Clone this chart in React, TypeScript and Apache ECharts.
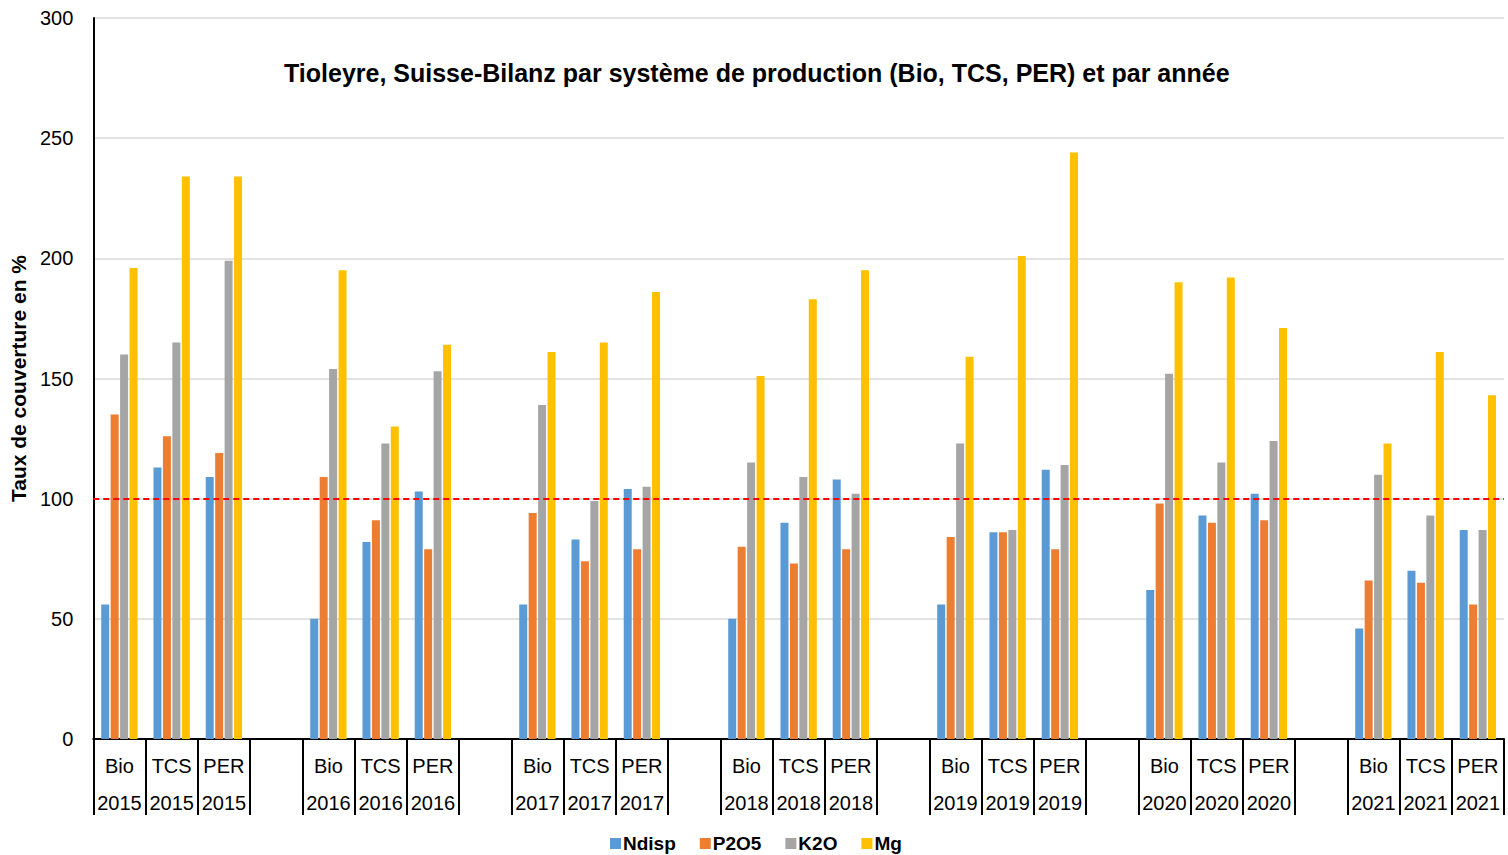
import React, { useEffect, useRef } from "react";
import * as echarts from "echarts";

const years = ["2015", "2016", "2017", "2018", "2019", "2020", "2021"];
const systems = ["Bio", "TCS", "PER"];

// values per year, in order Bio, TCS, PER
const ndisp = [
  [56, 113, 109],
  [50, 82, 103],
  [56, 83, 104],
  [50, 90, 108],
  [56, 86, 112],
  [62, 93, 102],
  [46, 70, 87],
];
const p2o5 = [
  [135, 126, 119],
  [109, 91, 79],
  [94, 74, 79],
  [80, 73, 79],
  [84, 86, 79],
  [98, 90, 91],
  [66, 65, 56],
];
const k2o = [
  [160, 165, 199],
  [154, 123, 153],
  [139, 99, 105],
  [115, 109, 102],
  [123, 87, 114],
  [152, 115, 124],
  [110, 93, 87],
];
const mg = [
  [196, 234, 234],
  [195, 130, 164],
  [161, 165, 186],
  [151, 183, 195],
  [159, 201, 244],
  [190, 192, 171],
  [123, 161, 143],
];

const seriesNames = ["Ndisp", "P2O5", "K2O", "Mg"];
const colors = ["#5b9bd5", "#ed7d31", "#a5a5a5", "#ffc000"];

function buildCategories(): string[] {
  const cats: string[] = [];
  years.forEach((y, i) => {
    systems.forEach((s) => cats.push(s + "\n" + y));
    if (i < years.length - 1) cats.push("");
  });
  return cats;
}

function flatten(vals: number[][]): (number | string)[] {
  const out: (number | string)[] = [];
  vals.forEach((row, i) => {
    row.forEach((v) => out.push(v));
    if (i < vals.length - 1) out.push("-");
  });
  return out;
}

export default function App() {
  const ref = useRef<HTMLDivElement>(null);
  useEffect(() => {
    if (!ref.current) return;
    const chart = echarts.init(ref.current, undefined, { renderer: "svg" });
    const font = "Liberation Sans, Arial, sans-serif";
    const all = [ndisp, p2o5, k2o, mg];
    chart.setOption({
      animation: false,
      backgroundColor: "#ffffff",
      title: {
        text: "Tioleyre, Suisse-Bilanz par système de production (Bio, TCS, PER) et par année",
        left: 279,
        top: 55,
        textStyle: { fontFamily: font, fontSize: 25, fontWeight: "bold", color: "#000" },
      },
      legend: {
        left: 610,
        top: 834,
        padding: 0,
        itemWidth: 11,
        itemHeight: 11,
        itemGap: 24,
        icon: "rect",
        textStyle: {
          fontFamily: font,
          fontSize: 19,
          lineHeight: 18,
          fontWeight: "bold",
          color: "#000",
          padding: [0, 0, 0, -3],
        },
        data: seriesNames,
      },
      grid: { left: 92, right: 4, top: 18, bottom: 116 },
      xAxis: {
        type: "category",
        data: buildCategories(),
        axisLine: { lineStyle: { color: "#000", width: 2 } },
        axisTick: { show: true, interval: 0, length: 76, lineStyle: { color: "#000", width: 2 } },
        axisLabel: {
          interval: 0,
          margin: 8,
          lineHeight: 37,
          fontFamily: font,
          fontSize: 20,
          color: "#000",
        },
      },
      yAxis: {
        type: "value",
        min: 0,
        max: 300,
        interval: 50,
        name: "Taux de couverture en %",
        nameLocation: "middle",
        nameGap: 60,
        nameTextStyle: { fontFamily: font, fontSize: 21, fontWeight: "bold", color: "#000" },
        axisLine: { show: true, lineStyle: { color: "#000", width: 2 } },
        axisTick: { show: false },
        axisLabel: { margin: 20, fontFamily: font, fontSize: 20, color: "#000" },
        splitLine: { lineStyle: { color: "#d9d9d9", width: 1.5 } },
      },
      series: seriesNames.map((name, i) => ({
        name,
        type: "bar",
        data: flatten(all[i]),
        barWidth: 8,
        barGap: "18%",
        itemStyle: { color: colors[i] },
        ...(i === 3
          ? {
              markLine: {
                silent: true,
                symbol: "none",
                label: { show: false },
                lineStyle: { color: "#ff0000", type: [6, 4], width: 2 },
                data: [{ yAxis: 100 }],
              },
            }
          : {}),
      })),
    });
    return () => chart.dispose();
  }, []);
  return (
    <div
      ref={ref}
      style={{ position: "fixed", left: 0, top: 0, width: 1508, height: 855 }}
    />
  );
}
